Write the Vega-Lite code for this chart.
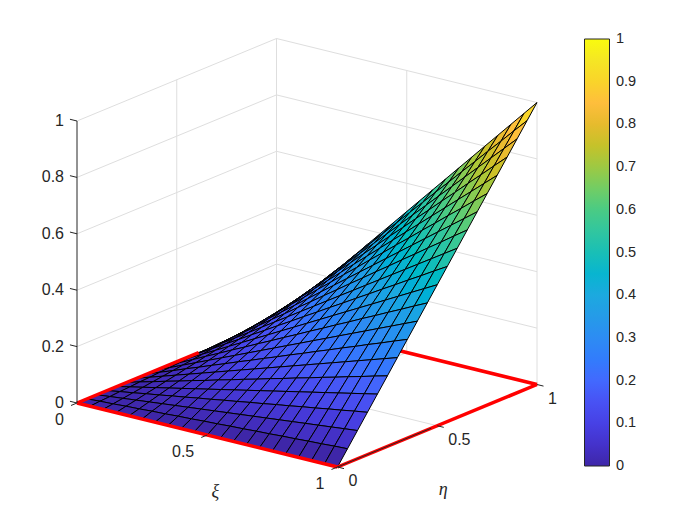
{"$schema":"https://vega.github.io/schema/vega-lite/v6.json","width":700,"height":525,"padding":0,"autosize":{"type":"none"},"background":"white","config":{"view":{"stroke":null}},
"layer":[
{"data":{"values":[
{"x0":0,"y0":0,"z0":0.2,"x1":0,"y1":1,"z1":0.2},{"x0":0,"y0":0,"z0":0.4,"x1":0,"y1":1,"z1":0.4},{"x0":0,"y0":0,"z0":0.6,"x1":0,"y1":1,"z1":0.6},{"x0":0,"y0":0,"z0":0.8,"x1":0,"y1":1,"z1":0.8},{"x0":0,"y0":0,"z0":1,"x1":0,"y1":1,"z1":1},
{"x0":0,"y0":1,"z0":0.2,"x1":1,"y1":1,"z1":0.2},{"x0":0,"y0":1,"z0":0.4,"x1":1,"y1":1,"z1":0.4},{"x0":0,"y0":1,"z0":0.6,"x1":1,"y1":1,"z1":0.6},{"x0":0,"y0":1,"z0":0.8,"x1":1,"y1":1,"z1":0.8},{"x0":0,"y0":1,"z0":1,"x1":1,"y1":1,"z1":1},
{"x0":0,"y0":0.5,"z0":0,"x1":0,"y1":0.5,"z1":1},{"x0":0,"y0":1,"z0":0,"x1":0,"y1":1,"z1":1},{"x0":0,"y0":1,"z0":0,"x1":0,"y1":1,"z1":1},{"x0":0.5,"y0":1,"z0":0,"x1":0.5,"y1":1,"z1":1},{"x0":1,"y0":1,"z0":0,"x1":1,"y1":1,"z1":1},
{"x0":0.5,"y0":0,"z0":0,"x1":0.5,"y1":1,"z1":0},{"x0":0,"y0":0.5,"z0":0,"x1":1,"y1":0.5,"z1":0}]},
"transform":[{"calculate":"77+260.5*datum.x0+199.5*datum.y0","as":"px"},{"calculate":"403+64*datum.x0-82.5*datum.y0-282*datum.z0","as":"py"},{"calculate":"77+260.5*datum.x1+199.5*datum.y1","as":"qx"},{"calculate":"403+64*datum.x1-82.5*datum.y1-282*datum.z1","as":"qy"}],
"mark":{"type":"rule","stroke":"#dedede","strokeWidth":1},
"encoding":{"x":{"field":"px","type":"quantitative","scale":{"domain":[0,700],"nice":false,"zero":false},"axis":null},"y":{"field":"py","type":"quantitative","scale":{"domain":[525,0],"nice":false,"zero":false},"axis":null},"x2":{"field":"qx"},"y2":{"field":"qy"}}},
{"data":{"values":[{"x0":0,"y0":1,"z0":0,"x1":1,"y1":1,"z1":0}]},
"transform":[{"calculate":"77+260.5*datum.x0+199.5*datum.y0","as":"px"},{"calculate":"403+64*datum.x0-82.5*datum.y0-282*datum.z0","as":"py"},{"calculate":"77+260.5*datum.x1+199.5*datum.y1","as":"qx"},{"calculate":"403+64*datum.x1-82.5*datum.y1-282*datum.z1","as":"qy"}],
"mark":{"type":"rule","stroke":"#ff0000","strokeWidth":3.5},
"encoding":{"x":{"field":"px","type":"quantitative","axis":null},"y":{"field":"py","type":"quantitative","axis":null},"x2":{"field":"qx"},"y2":{"field":"qy"}}},
{"data":{"values":[
{"i":0,"j":20,"z":0},{"i":0,"j":19,"z":0},{"i":0,"j":18,"z":0},{"i":0,"j":17,"z":0},{"i":0,"j":16,"z":0},{"i":0,"j":15,"z":0},{"i":0,"j":14,"z":0},{"i":0,"j":13,"z":0},{"i":0,"j":12,"z":0},{"i":0,"j":11,"z":0},{"i":0,"j":10,"z":0},{"i":0,"j":9,"z":0},{"i":0,"j":8,"z":0},{"i":0,"j":7,"z":0},{"i":0,"j":6,"z":0},{"i":0,"j":5,"z":0},{"i":0,"j":4,"z":0},{"i":0,"j":3,"z":0},{"i":0,"j":2,"z":0},{"i":0,"j":1,"z":0},{"i":0,"j":0,"z":0},
{"i":1,"j":20,"z":0.05},{"i":1,"j":19,"z":0.048},{"i":1,"j":18,"z":0.045},{"i":1,"j":17,"z":0.043},{"i":1,"j":16,"z":0.04},{"i":1,"j":15,"z":0.038},{"i":1,"j":14,"z":0.035},{"i":1,"j":13,"z":0.033},{"i":1,"j":12,"z":0.03},{"i":1,"j":11,"z":0.028},{"i":1,"j":10,"z":0.025},{"i":1,"j":9,"z":0.023},{"i":1,"j":8,"z":0.02},{"i":1,"j":7,"z":0.018},{"i":1,"j":6,"z":0.015},{"i":1,"j":5,"z":0.013},{"i":1,"j":4,"z":0.01},{"i":1,"j":3,"z":0.008},{"i":1,"j":2,"z":0.005},{"i":1,"j":1,"z":0.003},{"i":1,"j":0,"z":0},
{"i":2,"j":20,"z":0.1},{"i":2,"j":19,"z":0.095},{"i":2,"j":18,"z":0.09},{"i":2,"j":17,"z":0.085},{"i":2,"j":16,"z":0.08},{"i":2,"j":15,"z":0.075},{"i":2,"j":14,"z":0.07},{"i":2,"j":13,"z":0.065},{"i":2,"j":12,"z":0.06},{"i":2,"j":11,"z":0.055},{"i":2,"j":10,"z":0.05},{"i":2,"j":9,"z":0.045},{"i":2,"j":8,"z":0.04},{"i":2,"j":7,"z":0.035},{"i":2,"j":6,"z":0.03},{"i":2,"j":5,"z":0.025},{"i":2,"j":4,"z":0.02},{"i":2,"j":3,"z":0.015},{"i":2,"j":2,"z":0.01},{"i":2,"j":1,"z":0.005},{"i":2,"j":0,"z":0},
{"i":3,"j":20,"z":0.15},{"i":3,"j":19,"z":0.143},{"i":3,"j":18,"z":0.135},{"i":3,"j":17,"z":0.128},{"i":3,"j":16,"z":0.12},{"i":3,"j":15,"z":0.113},{"i":3,"j":14,"z":0.105},{"i":3,"j":13,"z":0.098},{"i":3,"j":12,"z":0.09},{"i":3,"j":11,"z":0.083},{"i":3,"j":10,"z":0.075},{"i":3,"j":9,"z":0.068},{"i":3,"j":8,"z":0.06},{"i":3,"j":7,"z":0.053},{"i":3,"j":6,"z":0.045},{"i":3,"j":5,"z":0.038},{"i":3,"j":4,"z":0.03},{"i":3,"j":3,"z":0.023},{"i":3,"j":2,"z":0.015},{"i":3,"j":1,"z":0.008},{"i":3,"j":0,"z":0},
{"i":4,"j":20,"z":0.2},{"i":4,"j":19,"z":0.19},{"i":4,"j":18,"z":0.18},{"i":4,"j":17,"z":0.17},{"i":4,"j":16,"z":0.16},{"i":4,"j":15,"z":0.15},{"i":4,"j":14,"z":0.14},{"i":4,"j":13,"z":0.13},{"i":4,"j":12,"z":0.12},{"i":4,"j":11,"z":0.11},{"i":4,"j":10,"z":0.1},{"i":4,"j":9,"z":0.09},{"i":4,"j":8,"z":0.08},{"i":4,"j":7,"z":0.07},{"i":4,"j":6,"z":0.06},{"i":4,"j":5,"z":0.05},{"i":4,"j":4,"z":0.04},{"i":4,"j":3,"z":0.03},{"i":4,"j":2,"z":0.02},{"i":4,"j":1,"z":0.01},{"i":4,"j":0,"z":0},
{"i":5,"j":20,"z":0.25},{"i":5,"j":19,"z":0.238},{"i":5,"j":18,"z":0.225},{"i":5,"j":17,"z":0.213},{"i":5,"j":16,"z":0.2},{"i":5,"j":15,"z":0.188},{"i":5,"j":14,"z":0.175},{"i":5,"j":13,"z":0.163},{"i":5,"j":12,"z":0.15},{"i":5,"j":11,"z":0.138},{"i":5,"j":10,"z":0.125},{"i":5,"j":9,"z":0.113},{"i":5,"j":8,"z":0.1},{"i":5,"j":7,"z":0.088},{"i":5,"j":6,"z":0.075},{"i":5,"j":5,"z":0.063},{"i":5,"j":4,"z":0.05},{"i":5,"j":3,"z":0.038},{"i":5,"j":2,"z":0.025},{"i":5,"j":1,"z":0.013},{"i":5,"j":0,"z":0},
{"i":6,"j":20,"z":0.3},{"i":6,"j":19,"z":0.285},{"i":6,"j":18,"z":0.27},{"i":6,"j":17,"z":0.255},{"i":6,"j":16,"z":0.24},{"i":6,"j":15,"z":0.225},{"i":6,"j":14,"z":0.21},{"i":6,"j":13,"z":0.195},{"i":6,"j":12,"z":0.18},{"i":6,"j":11,"z":0.165},{"i":6,"j":10,"z":0.15},{"i":6,"j":9,"z":0.135},{"i":6,"j":8,"z":0.12},{"i":6,"j":7,"z":0.105},{"i":6,"j":6,"z":0.09},{"i":6,"j":5,"z":0.075},{"i":6,"j":4,"z":0.06},{"i":6,"j":3,"z":0.045},{"i":6,"j":2,"z":0.03},{"i":6,"j":1,"z":0.015},{"i":6,"j":0,"z":0},
{"i":7,"j":20,"z":0.35},{"i":7,"j":19,"z":0.333},{"i":7,"j":18,"z":0.315},{"i":7,"j":17,"z":0.298},{"i":7,"j":16,"z":0.28},{"i":7,"j":15,"z":0.263},{"i":7,"j":14,"z":0.245},{"i":7,"j":13,"z":0.228},{"i":7,"j":12,"z":0.21},{"i":7,"j":11,"z":0.193},{"i":7,"j":10,"z":0.175},{"i":7,"j":9,"z":0.158},{"i":7,"j":8,"z":0.14},{"i":7,"j":7,"z":0.123},{"i":7,"j":6,"z":0.105},{"i":7,"j":5,"z":0.088},{"i":7,"j":4,"z":0.07},{"i":7,"j":3,"z":0.053},{"i":7,"j":2,"z":0.035},{"i":7,"j":1,"z":0.018},{"i":7,"j":0,"z":0},
{"i":8,"j":20,"z":0.4},{"i":8,"j":19,"z":0.38},{"i":8,"j":18,"z":0.36},{"i":8,"j":17,"z":0.34},{"i":8,"j":16,"z":0.32},{"i":8,"j":15,"z":0.3},{"i":8,"j":14,"z":0.28},{"i":8,"j":13,"z":0.26},{"i":8,"j":12,"z":0.24},{"i":8,"j":11,"z":0.22},{"i":8,"j":10,"z":0.2},{"i":8,"j":9,"z":0.18},{"i":8,"j":8,"z":0.16},{"i":8,"j":7,"z":0.14},{"i":8,"j":6,"z":0.12},{"i":8,"j":5,"z":0.1},{"i":8,"j":4,"z":0.08},{"i":8,"j":3,"z":0.06},{"i":8,"j":2,"z":0.04},{"i":8,"j":1,"z":0.02},{"i":8,"j":0,"z":0},
{"i":9,"j":20,"z":0.45},{"i":9,"j":19,"z":0.428},{"i":9,"j":18,"z":0.405},{"i":9,"j":17,"z":0.383},{"i":9,"j":16,"z":0.36},{"i":9,"j":15,"z":0.338},{"i":9,"j":14,"z":0.315},{"i":9,"j":13,"z":0.293},{"i":9,"j":12,"z":0.27},{"i":9,"j":11,"z":0.248},{"i":9,"j":10,"z":0.225},{"i":9,"j":9,"z":0.203},{"i":9,"j":8,"z":0.18},{"i":9,"j":7,"z":0.158},{"i":9,"j":6,"z":0.135},{"i":9,"j":5,"z":0.113},{"i":9,"j":4,"z":0.09},{"i":9,"j":3,"z":0.068},{"i":9,"j":2,"z":0.045},{"i":9,"j":1,"z":0.023},{"i":9,"j":0,"z":0},
{"i":10,"j":20,"z":0.5},{"i":10,"j":19,"z":0.475},{"i":10,"j":18,"z":0.45},{"i":10,"j":17,"z":0.425},{"i":10,"j":16,"z":0.4},{"i":10,"j":15,"z":0.375},{"i":10,"j":14,"z":0.35},{"i":10,"j":13,"z":0.325},{"i":10,"j":12,"z":0.3},{"i":10,"j":11,"z":0.275},{"i":10,"j":10,"z":0.25},{"i":10,"j":9,"z":0.225},{"i":10,"j":8,"z":0.2},{"i":10,"j":7,"z":0.175},{"i":10,"j":6,"z":0.15},{"i":10,"j":5,"z":0.125},{"i":10,"j":4,"z":0.1},{"i":10,"j":3,"z":0.075},{"i":10,"j":2,"z":0.05},{"i":10,"j":1,"z":0.025},{"i":10,"j":0,"z":0},
{"i":11,"j":20,"z":0.55},{"i":11,"j":19,"z":0.523},{"i":11,"j":18,"z":0.495},{"i":11,"j":17,"z":0.468},{"i":11,"j":16,"z":0.44},{"i":11,"j":15,"z":0.413},{"i":11,"j":14,"z":0.385},{"i":11,"j":13,"z":0.358},{"i":11,"j":12,"z":0.33},{"i":11,"j":11,"z":0.303},{"i":11,"j":10,"z":0.275},{"i":11,"j":9,"z":0.248},{"i":11,"j":8,"z":0.22},{"i":11,"j":7,"z":0.193},{"i":11,"j":6,"z":0.165},{"i":11,"j":5,"z":0.138},{"i":11,"j":4,"z":0.11},{"i":11,"j":3,"z":0.083},{"i":11,"j":2,"z":0.055},{"i":11,"j":1,"z":0.028},{"i":11,"j":0,"z":0},
{"i":12,"j":20,"z":0.6},{"i":12,"j":19,"z":0.57},{"i":12,"j":18,"z":0.54},{"i":12,"j":17,"z":0.51},{"i":12,"j":16,"z":0.48},{"i":12,"j":15,"z":0.45},{"i":12,"j":14,"z":0.42},{"i":12,"j":13,"z":0.39},{"i":12,"j":12,"z":0.36},{"i":12,"j":11,"z":0.33},{"i":12,"j":10,"z":0.3},{"i":12,"j":9,"z":0.27},{"i":12,"j":8,"z":0.24},{"i":12,"j":7,"z":0.21},{"i":12,"j":6,"z":0.18},{"i":12,"j":5,"z":0.15},{"i":12,"j":4,"z":0.12},{"i":12,"j":3,"z":0.09},{"i":12,"j":2,"z":0.06},{"i":12,"j":1,"z":0.03},{"i":12,"j":0,"z":0},
{"i":13,"j":20,"z":0.65},{"i":13,"j":19,"z":0.618},{"i":13,"j":18,"z":0.585},{"i":13,"j":17,"z":0.553},{"i":13,"j":16,"z":0.52},{"i":13,"j":15,"z":0.488},{"i":13,"j":14,"z":0.455},{"i":13,"j":13,"z":0.423},{"i":13,"j":12,"z":0.39},{"i":13,"j":11,"z":0.358},{"i":13,"j":10,"z":0.325},{"i":13,"j":9,"z":0.293},{"i":13,"j":8,"z":0.26},{"i":13,"j":7,"z":0.228},{"i":13,"j":6,"z":0.195},{"i":13,"j":5,"z":0.163},{"i":13,"j":4,"z":0.13},{"i":13,"j":3,"z":0.098},{"i":13,"j":2,"z":0.065},{"i":13,"j":1,"z":0.033},{"i":13,"j":0,"z":0},
{"i":14,"j":20,"z":0.7},{"i":14,"j":19,"z":0.665},{"i":14,"j":18,"z":0.63},{"i":14,"j":17,"z":0.595},{"i":14,"j":16,"z":0.56},{"i":14,"j":15,"z":0.525},{"i":14,"j":14,"z":0.49},{"i":14,"j":13,"z":0.455},{"i":14,"j":12,"z":0.42},{"i":14,"j":11,"z":0.385},{"i":14,"j":10,"z":0.35},{"i":14,"j":9,"z":0.315},{"i":14,"j":8,"z":0.28},{"i":14,"j":7,"z":0.245},{"i":14,"j":6,"z":0.21},{"i":14,"j":5,"z":0.175},{"i":14,"j":4,"z":0.14},{"i":14,"j":3,"z":0.105},{"i":14,"j":2,"z":0.07},{"i":14,"j":1,"z":0.035},{"i":14,"j":0,"z":0},
{"i":15,"j":20,"z":0.75},{"i":15,"j":19,"z":0.713},{"i":15,"j":18,"z":0.675},{"i":15,"j":17,"z":0.638},{"i":15,"j":16,"z":0.6},{"i":15,"j":15,"z":0.563},{"i":15,"j":14,"z":0.525},{"i":15,"j":13,"z":0.488},{"i":15,"j":12,"z":0.45},{"i":15,"j":11,"z":0.413},{"i":15,"j":10,"z":0.375},{"i":15,"j":9,"z":0.338},{"i":15,"j":8,"z":0.3},{"i":15,"j":7,"z":0.263},{"i":15,"j":6,"z":0.225},{"i":15,"j":5,"z":0.188},{"i":15,"j":4,"z":0.15},{"i":15,"j":3,"z":0.113},{"i":15,"j":2,"z":0.075},{"i":15,"j":1,"z":0.038},{"i":15,"j":0,"z":0},
{"i":16,"j":20,"z":0.8},{"i":16,"j":19,"z":0.76},{"i":16,"j":18,"z":0.72},{"i":16,"j":17,"z":0.68},{"i":16,"j":16,"z":0.64},{"i":16,"j":15,"z":0.6},{"i":16,"j":14,"z":0.56},{"i":16,"j":13,"z":0.52},{"i":16,"j":12,"z":0.48},{"i":16,"j":11,"z":0.44},{"i":16,"j":10,"z":0.4},{"i":16,"j":9,"z":0.36},{"i":16,"j":8,"z":0.32},{"i":16,"j":7,"z":0.28},{"i":16,"j":6,"z":0.24},{"i":16,"j":5,"z":0.2},{"i":16,"j":4,"z":0.16},{"i":16,"j":3,"z":0.12},{"i":16,"j":2,"z":0.08},{"i":16,"j":1,"z":0.04},{"i":16,"j":0,"z":0},
{"i":17,"j":20,"z":0.85},{"i":17,"j":19,"z":0.808},{"i":17,"j":18,"z":0.765},{"i":17,"j":17,"z":0.723},{"i":17,"j":16,"z":0.68},{"i":17,"j":15,"z":0.638},{"i":17,"j":14,"z":0.595},{"i":17,"j":13,"z":0.553},{"i":17,"j":12,"z":0.51},{"i":17,"j":11,"z":0.468},{"i":17,"j":10,"z":0.425},{"i":17,"j":9,"z":0.383},{"i":17,"j":8,"z":0.34},{"i":17,"j":7,"z":0.298},{"i":17,"j":6,"z":0.255},{"i":17,"j":5,"z":0.213},{"i":17,"j":4,"z":0.17},{"i":17,"j":3,"z":0.128},{"i":17,"j":2,"z":0.085},{"i":17,"j":1,"z":0.043},{"i":17,"j":0,"z":0},
{"i":18,"j":20,"z":0.9},{"i":18,"j":19,"z":0.855},{"i":18,"j":18,"z":0.81},{"i":18,"j":17,"z":0.765},{"i":18,"j":16,"z":0.72},{"i":18,"j":15,"z":0.675},{"i":18,"j":14,"z":0.63},{"i":18,"j":13,"z":0.585},{"i":18,"j":12,"z":0.54},{"i":18,"j":11,"z":0.495},{"i":18,"j":10,"z":0.45},{"i":18,"j":9,"z":0.405},{"i":18,"j":8,"z":0.36},{"i":18,"j":7,"z":0.315},{"i":18,"j":6,"z":0.27},{"i":18,"j":5,"z":0.225},{"i":18,"j":4,"z":0.18},{"i":18,"j":3,"z":0.135},{"i":18,"j":2,"z":0.09},{"i":18,"j":1,"z":0.045},{"i":18,"j":0,"z":0},
{"i":19,"j":20,"z":0.95},{"i":19,"j":19,"z":0.903},{"i":19,"j":18,"z":0.855},{"i":19,"j":17,"z":0.808},{"i":19,"j":16,"z":0.76},{"i":19,"j":15,"z":0.713},{"i":19,"j":14,"z":0.665},{"i":19,"j":13,"z":0.618},{"i":19,"j":12,"z":0.57},{"i":19,"j":11,"z":0.523},{"i":19,"j":10,"z":0.475},{"i":19,"j":9,"z":0.428},{"i":19,"j":8,"z":0.38},{"i":19,"j":7,"z":0.333},{"i":19,"j":6,"z":0.285},{"i":19,"j":5,"z":0.238},{"i":19,"j":4,"z":0.19},{"i":19,"j":3,"z":0.143},{"i":19,"j":2,"z":0.095},{"i":19,"j":1,"z":0.048},{"i":19,"j":0,"z":0},
{"i":20,"j":20,"z":1},{"i":20,"j":19,"z":0.95},{"i":20,"j":18,"z":0.9},{"i":20,"j":17,"z":0.85},{"i":20,"j":16,"z":0.8},{"i":20,"j":15,"z":0.75},{"i":20,"j":14,"z":0.7},{"i":20,"j":13,"z":0.65},{"i":20,"j":12,"z":0.6},{"i":20,"j":11,"z":0.55},{"i":20,"j":10,"z":0.5},{"i":20,"j":9,"z":0.45},{"i":20,"j":8,"z":0.4},{"i":20,"j":7,"z":0.35},{"i":20,"j":6,"z":0.3},{"i":20,"j":5,"z":0.25},{"i":20,"j":4,"z":0.2},{"i":20,"j":3,"z":0.15},{"i":20,"j":2,"z":0.1},{"i":20,"j":1,"z":0.05},{"i":20,"j":0,"z":0}]},
"transform":[{"calculate":"[0,1,2,3]","as":"k"},{"flatten":["k"]},{"calculate":"datum.i-((datum.k==1||datum.k==2)?1:0)","as":"ci"},{"calculate":"datum.j-(datum.k>=2?1:0)","as":"cj"},{"filter":"datum.ci>=0&&datum.ci<20&&datum.cj>=0&&datum.cj<20"},{"calculate":"'c'+datum.ci+'_'+datum.cj","as":"cell"},{"joinaggregate":[{"op":"min","field":"z","as":"value"}],"groupby":["cell"]},{"calculate":"77+260.5*datum.i/20+199.5*datum.j/20","as":"px"},{"calculate":"403+64*datum.i/20-82.5*datum.j/20-282*datum.z","as":"py"}],
"mark":{"type":"line","interpolate":"linear-closed","stroke":"#000000","strokeWidth":1},
"encoding":{"x":{"field":"px","type":"quantitative","axis":null},"y":{"field":"py","type":"quantitative","axis":null},"detail":{"field":"cell"},"order":{"field":"k"},
"fill":{"field":"value","type":"quantitative","scale":{"domain":[0,1],"nice":false,"zero":false,"range":["#3E26A8","#4432CB","#4741E5","#4852F4","#4269FE","#327CFC","#2D8CF3","#259BE8","#1CA9DF","#08B5D0","#19BFB6","#31C69F","#4ACB84","#72CD64","#9DC943","#C5C22A","#E6BB2D","#FEBE3C","#F9D42A","#F5E624","#F9FB0E"]},
"legend":{"type":"gradient","title":null,"orient":"none","legendX":584.5,"legendY":39,"direction":"vertical","gradientLength":427,"gradientThickness":25,"gradientStrokeColor":"#262626","gradientStrokeWidth":1,"values":[0,1],"labelOpacity":0,"labelFontSize":1}}}},
{"data":{"values":[{"x0":0,"y0":0,"z0":0,"x1":1,"y1":0,"z1":0},{"x0":1,"y0":0,"z0":0,"x1":1,"y1":1,"z1":0},{"x0":0,"y0":0,"z0":0,"x1":0,"y1":0.61,"z1":0}]},
"transform":[{"calculate":"77+260.5*datum.x0+199.5*datum.y0","as":"px"},{"calculate":"403+64*datum.x0-82.5*datum.y0-282*datum.z0","as":"py"},{"calculate":"77+260.5*datum.x1+199.5*datum.y1","as":"qx"},{"calculate":"403+64*datum.x1-82.5*datum.y1-282*datum.z1","as":"qy"}],
"mark":{"type":"rule","stroke":"#ff0000","strokeWidth":3.5},
"encoding":{"x":{"field":"px","type":"quantitative","axis":null},"y":{"field":"py","type":"quantitative","axis":null},"x2":{"field":"qx"},"y2":{"field":"qy"}}},
{"data":{"values":[
{"x0":0,"y0":0,"z0":0,"x1":0,"y1":0,"z1":1},
{"x0":0,"y0":0,"z0":0,"x1":-0.027,"y1":0,"z1":0},{"x0":0,"y0":0,"z0":0.2,"x1":-0.027,"y1":0,"z1":0.2},{"x0":0,"y0":0,"z0":0.4,"x1":-0.027,"y1":0,"z1":0.4},{"x0":0,"y0":0,"z0":0.6,"x1":-0.027,"y1":0,"z1":0.6},{"x0":0,"y0":0,"z0":0.8,"x1":-0.027,"y1":0,"z1":0.8},{"x0":0,"y0":0,"z0":1,"x1":-0.027,"y1":0,"z1":1},
{"x0":0,"y0":0,"z0":0,"x1":0,"y1":-0.03,"z1":0},{"x0":0.5,"y0":0,"z0":0,"x1":0.5,"y1":-0.03,"z1":0},{"x0":1,"y0":0,"z0":0,"x1":1,"y1":-0.03,"z1":0},
{"x0":1,"y0":0,"z0":0,"x1":1.025,"y1":0,"z1":0},{"x0":1,"y0":0.5,"z0":0,"x1":1.025,"y1":0.5,"z1":0},{"x0":1,"y0":1,"z0":0,"x1":1.025,"y1":1,"z1":0},
{"x0":1,"y0":0,"z0":0,"x1":1,"y1":0.47,"z1":0}]},
"transform":[{"calculate":"77+260.5*datum.x0+199.5*datum.y0","as":"px"},{"calculate":"403+64*datum.x0-82.5*datum.y0-282*datum.z0","as":"py"},{"calculate":"77+260.5*datum.x1+199.5*datum.y1","as":"qx"},{"calculate":"403+64*datum.x1-82.5*datum.y1-282*datum.z1","as":"qy"}],
"mark":{"type":"rule","stroke":"#262626","strokeWidth":1},
"encoding":{"x":{"field":"px","type":"quantitative","axis":null},"y":{"field":"py","type":"quantitative","axis":null},"x2":{"field":"qx"},"y2":{"field":"qy"}}},
{"data":{"values":[{"t":"0","x":0,"y":0,"z":0},{"t":"0.2","x":0,"y":0,"z":0.2},{"t":"0.4","x":0,"y":0,"z":0.4},{"t":"0.6","x":0,"y":0,"z":0.6},{"t":"0.8","x":0,"y":0,"z":0.8},{"t":"1","x":0,"y":0,"z":1}]},
"transform":[{"calculate":"77+260.5*datum.x+199.5*datum.y","as":"px"},{"calculate":"403+64*datum.x-82.5*datum.y-282*datum.z","as":"py"}],
"mark":{"type":"text","align":"right","baseline":"middle","dx":-13,"font":"Liberation Sans","fontSize":16,"fill":"#262626"},
"encoding":{"x":{"field":"px","type":"quantitative","axis":null},"y":{"field":"py","type":"quantitative","axis":null},"text":{"field":"t"}}},
{"data":{"values":[{"t":"0","x":0,"y":0,"z":0},{"t":"0.5","x":0.5,"y":0,"z":0},{"t":"1","x":1,"y":0,"z":0}]},
"transform":[{"calculate":"77+260.5*datum.x+199.5*datum.y","as":"px"},{"calculate":"403+64*datum.x-82.5*datum.y-282*datum.z","as":"py"}],
"mark":{"type":"text","align":"right","baseline":"middle","dx":-13,"dy":17,"font":"Liberation Sans","fontSize":16,"fill":"#262626"},
"encoding":{"x":{"field":"px","type":"quantitative","axis":null},"y":{"field":"py","type":"quantitative","axis":null},"text":{"field":"t"}}},
{"data":{"values":[{"t":"0","x":1,"y":0,"z":0},{"t":"0.5","x":1,"y":0.5,"z":0},{"t":"1","x":1,"y":1,"z":0}]},
"transform":[{"calculate":"77+260.5*datum.x+199.5*datum.y","as":"px"},{"calculate":"403+64*datum.x-82.5*datum.y-282*datum.z","as":"py"}],
"mark":{"type":"text","align":"left","baseline":"middle","dx":11,"dy":14,"font":"Liberation Sans","fontSize":16,"fill":"#262626"},
"encoding":{"x":{"field":"px","type":"quantitative","axis":null},"y":{"field":"py","type":"quantitative","axis":null},"text":{"field":"t"}}},
{"data":{"values":[{"t":"ξ","x":0.5,"y":0,"z":0}]},
"transform":[{"calculate":"77+260.5*datum.x+199.5*datum.y","as":"px"},{"calculate":"403+64*datum.x-82.5*datum.y-282*datum.z","as":"py"}],
"mark":{"type":"text","align":"center","baseline":"middle","dx":8,"dy":57,"font":"Liberation Serif","fontStyle":"italic","fontSize":18,"fill":"#262626"},
"encoding":{"x":{"field":"px","type":"quantitative","axis":null},"y":{"field":"py","type":"quantitative","axis":null},"text":{"field":"t"}}},
{"data":{"values":[{"t":"η","x":1,"y":0.5,"z":0}]},
"transform":[{"calculate":"77+260.5*datum.x+199.5*datum.y","as":"px"},{"calculate":"403+64*datum.x-82.5*datum.y-282*datum.z","as":"py"}],
"mark":{"type":"text","align":"center","baseline":"middle","dx":6,"dy":64,"font":"Liberation Serif","fontStyle":"italic","fontSize":18,"fill":"#262626"},
"encoding":{"x":{"field":"px","type":"quantitative","axis":null},"y":{"field":"py","type":"quantitative","axis":null},"text":{"field":"t"}}},
{"data":{"values":[{"v":0.1},{"v":0.2},{"v":0.3},{"v":0.4},{"v":0.5},{"v":0.6},{"v":0.7},{"v":0.8},{"v":0.9}]},
"transform":[{"calculate":"605.5","as":"tx"},{"calculate":"609.5","as":"tx2"},{"calculate":"466-427*datum.v","as":"ty"}],
"mark":{"type":"rule","stroke":"#262626","strokeWidth":1},
"encoding":{"x":{"field":"tx","type":"quantitative","axis":null},"x2":{"field":"tx2"},"y":{"field":"ty","type":"quantitative","axis":null}}},
{"data":{"values":[{"t":"0","v":0},{"t":"0.1","v":0.1},{"t":"0.2","v":0.2},{"t":"0.3","v":0.3},{"t":"0.4","v":0.4},{"t":"0.5","v":0.5},{"t":"0.6","v":0.6},{"t":"0.7","v":0.7},{"t":"0.8","v":0.8},{"t":"0.9","v":0.9},{"t":"1","v":1}]},
"transform":[{"calculate":"616","as":"tx"},{"calculate":"466-427*datum.v","as":"ty"}],
"mark":{"type":"text","align":"left","baseline":"middle","font":"Liberation Sans","fontSize":14.5,"fill":"#262626"},
"encoding":{"x":{"field":"tx","type":"quantitative","axis":null},"y":{"field":"ty","type":"quantitative","axis":null},"text":{"field":"t"}}}
]}
